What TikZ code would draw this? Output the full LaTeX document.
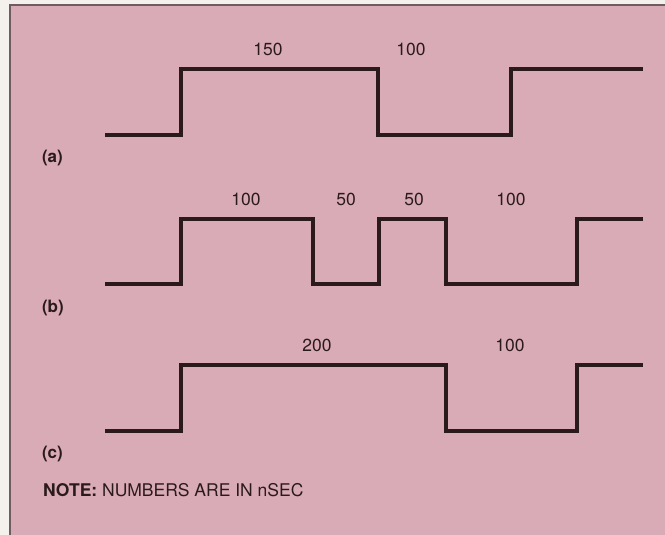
\documentclass[tikz,border=0pt]{standalone}
\usepackage{fontspec}
\setmainfont{TeX Gyre Heros}
\definecolor{wavePaper}{HTML}{F4F1EC}
\definecolor{wavePink}{HTML}{D9ABB6}
\definecolor{waveFrame}{HTML}{6E5C60}
\definecolor{waveInk}{HTML}{2B1A1C}
\tikzset{
  wave diagram/.style={
    x=1pt, y=-1pt,
    every node/.style={font=\fontsize{17.5}{20}\selectfont,
      text=waveInk, inner sep=0pt, outer sep=0pt}
  },
  wave line/.style={draw=waveInk, line width=4pt, line join=miter},
  wave label/.style={anchor=center},
  wave tag/.style={anchor=west, font=\fontsize{17}{20}\selectfont\bfseries}
}
% #1 name, #2 high level, #3 path, #4 labels x/text
\newcommand{\WaveTrace}[4]{%
  \begin{scope}[shift={(0,#2)}]
    \draw[wave line] #3;
    \foreach \waveX/\waveText [count=\waveI] in {#4} {
      \node[wave label] (wave#1-\waveI) at (\waveX,-20) {\waveText};
    }
    \node[wave tag] (tag#1) at (42,89) {(#1)};
  \end{scope}
}

\begin{document}
\begin{tikzpicture}[wave diagram]
    \useasboundingbox (0,0) rectangle (665,535);
    \fill[wavePaper] (0,0) rectangle (665,535);
    \fill[wavePink] (10,5) rectangle (665,535);
    \draw[waveFrame, line width=1.5pt] (10,535) -- (10,5) -- (665,5);
    \WaveTrace{a}{69}
      {(105,66) -- (181,66) -- (181,0) -- (378,0) -- (378,66) -- (511,66) -- (511,0) -- (643,0)}
      {268/150,411/100}
    \WaveTrace{b}{219}
      {(105,65) -- (181,65) -- (181,0) -- (313,0) -- (313,65) -- (379,65) -- (379,0)
        -- (446,0) -- (446,65) -- (577,65) -- (577,0) -- (643,0)}
      {246/100,346/50,414/50,511/100}
    \WaveTrace{c}{365}
      {(105,66) -- (181,66) -- (181,0) -- (446,0) -- (446,66) -- (577,66) -- (577,0) -- (643,0)}
      {317/200,510/100}
    \node[anchor=west] (note) at (43,490) {\textbf{NOTE:} NUMBERS ARE IN nSEC};
  \end{tikzpicture}
\end{document}
